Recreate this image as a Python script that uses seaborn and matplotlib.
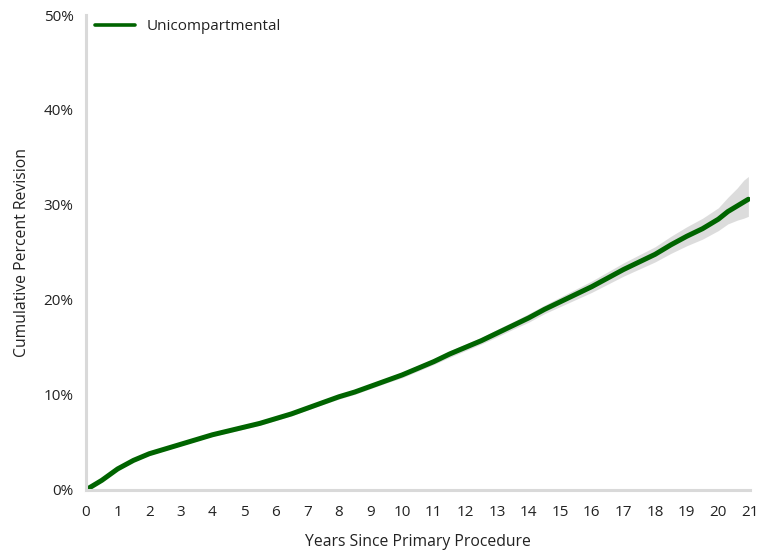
import matplotlib
matplotlib.use("Agg")
import matplotlib.pyplot as plt
import seaborn as sns
import pandas as pd
from matplotlib.ticker import PercentFormatter

years = [0, 0.25, 0.5, 0.75, 1, 1.5, 2, 2.5, 3, 3.5, 4, 4.5, 5, 5.5, 6, 6.5, 7, 7.5,
         8, 8.5, 9, 9.5, 10, 10.5, 11, 11.5, 12, 12.5, 13, 13.5, 14, 14.5, 15, 15.5,
         16, 16.5, 17, 17.5, 18, 18.5, 19, 19.5, 20, 20.3, 20.6, 20.8, 20.95]
cpr = [0, 0.5, 1.0, 1.6, 2.2, 3.1, 3.8, 4.3, 4.8, 5.3, 5.8, 6.2, 6.6, 7.0, 7.5, 8.0,
       8.6, 9.2, 9.8, 10.3, 10.9, 11.5, 12.1, 12.8, 13.5, 14.3, 15.0, 15.7, 16.5,
       17.3, 18.1, 19.0, 19.8, 20.6, 21.4, 22.3, 23.2, 24.0, 24.8, 25.8, 26.7, 27.5,
       28.5, 29.3, 29.9, 30.3, 30.6]
ci_half = [0, 0.05, 0.1, 0.1, 0.15, 0.15, 0.15, 0.15, 0.15, 0.15, 0.15, 0.2, 0.2, 0.2,
           0.2, 0.2, 0.2, 0.2, 0.25, 0.25, 0.25, 0.25, 0.3, 0.3, 0.3, 0.35, 0.35, 0.35,
           0.4, 0.4, 0.45, 0.45, 0.5, 0.55, 0.6, 0.65, 0.7, 0.75, 0.8, 0.9, 1.0, 1.1,
           1.2, 1.3, 1.5, 1.7, 1.8]
ci_upper_extra = [0]*43 + [0.2, 0.4, 0.6, 0.6]

lower = [c - h for c, h in zip(cpr, ci_half)]
upper = [c + h + e for c, h, e in zip(cpr, ci_half, ci_upper_extra)]

df = pd.DataFrame({"Years": years, "CPR": cpr})

sns.set_theme(style="white")
plt.rcParams['font.family'] = ['Open Sans', 'DejaVu Sans']

fig = plt.figure(figsize=(7.61, 5.56), dpi=100)
ax = fig.add_axes([0.113, 0.119, 0.8725, 0.854])

ax.fill_between(years, lower, upper, color="#d9d9d9", alpha=0.9, linewidth=0)
sns.lineplot(data=df, x="Years", y="CPR", ax=ax, color="#006400", linewidth=3.6,
             label="Unicompartmental")

ax.set_xlim(0, 21)
ax.set_ylim(0, 50)
ax.set_xticks(range(0, 22))
ax.set_yticks(range(0, 51, 10))
ax.yaxis.set_major_formatter(PercentFormatter(decimals=0))

for s in ["top", "right"]:
    ax.spines[s].set_visible(False)
for s in ["left", "bottom"]:
    ax.spines[s].set_color("#d9d9d9")
    ax.spines[s].set_linewidth(2.2)

ax.tick_params(axis="both", which="major", length=4, width=1, color="#d9d9d9",
               labelsize=11, labelcolor="#222222", pad=5)
ax.tick_params(axis="x", direction="out", pad=7)
ax.set_xlabel("Years Since Primary Procedure", fontsize=11.3, color="#222222", labelpad=10)
ax.set_ylabel("Cumulative Percent Revision", fontsize=11.3, color="#222222", labelpad=10)

leg = ax.legend(loc="upper left", frameon=False, fontsize=11, handlelength=2.6,
                borderaxespad=0.2, bbox_to_anchor=(0.0, 1.01))
for line in leg.get_lines():
    line.set_linewidth(2.6)
for t in leg.get_texts():
    t.set_color("#222222")

fig.savefig("out.png", dpi=100)
